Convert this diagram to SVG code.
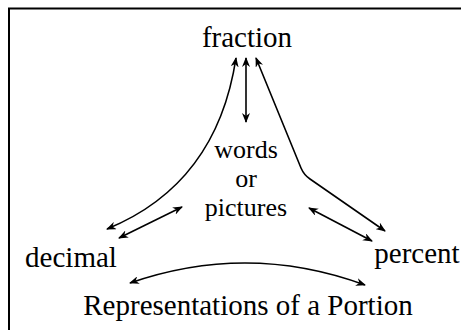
<svg xmlns="http://www.w3.org/2000/svg" width="461" height="330" viewBox="0 0 461 330">
<style>
.t{font-family:"Liberation Serif","Times New Roman",serif;font-size:29px;fill:#000;text-anchor:middle}
.m{font-size:26px}
.c{fill:none;stroke:#000;stroke-width:1.6}
</style>
<defs>
<marker id="ah" viewBox="0 0 10 8" refX="9" refY="4" markerWidth="10" markerHeight="8" markerUnits="userSpaceOnUse" orient="auto-start-reverse">
<path d="M0,0 L10,4 L0,8 L3,4 z" fill="#000"/>
</marker>
</defs>
<rect width="461" height="330" fill="#fff"/>
<path d="M9,332 V8.5 H463" fill="none" stroke="#000" stroke-width="2"/>
<g id="fraction"><text class="t" x="247" y="47">fraction</text></g>
<g id="words"><text class="t m" x="246" y="158">words</text><text class="t m" x="246" y="187">or</text><text class="t m" x="246" y="216">pictures</text></g>
<g id="decimal"><text class="t" x="71" y="267">decimal</text></g>
<g id="percent"><text class="t" x="417" y="263">percent</text></g>
<g id="title"><text class="t" x="248" y="315">Representations of a Portion</text></g>
<g id="connectors">
<path class="c" d="M236,58 C225,130 190,195 107,229" marker-start="url(#ah)" marker-end="url(#ah)"/>
<path class="c" d="M246,58 V122" marker-start="url(#ah)" marker-end="url(#ah)"/>
<path class="c" d="M256,58 L301,168 Q304,175 310,179 L385,231" marker-start="url(#ah)" marker-end="url(#ah)"/>
<path class="c" d="M182,207 L119,238" marker-start="url(#ah)" marker-end="url(#ah)"/>
<path class="c" d="M309,208 L372,241" marker-start="url(#ah)" marker-end="url(#ah)"/>
<path class="c" d="M130,283 Q248,242 365,285" marker-start="url(#ah)" marker-end="url(#ah)"/>
</g>
</svg>
